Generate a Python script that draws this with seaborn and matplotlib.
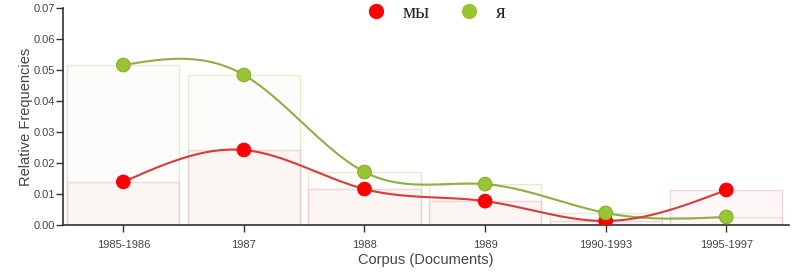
import numpy as np
import pandas as pd
import matplotlib
matplotlib.use("Agg")
import matplotlib.pyplot as plt
import seaborn as sns
from matplotlib.lines import Line2D

categories = ["1985-1986", "1987", "1988", "1989", "1990-1993", "1995-1997"]
my_values = [0.0139, 0.0242, 0.0116, 0.0077, 0.0013, 0.0113]   # мы
ya_values = [0.0516, 0.0484, 0.0171, 0.0132, 0.0039, 0.0026]   # я
series_names = ["мы", "я"]
y_ticks = [0.00, 0.01, 0.02, 0.03, 0.04, 0.05, 0.06, 0.07]

RED = "#ff0000"
RED_LINE = "#d93a3a"
GREEN = "#9ac431"
GREEN_LINE = "#8fae45"


def natural_spline(x, y, n=400):
    x = np.asarray(x, float)
    y = np.asarray(y, float)
    m = len(x)
    h = np.diff(x)
    A = np.zeros((m, m))
    b = np.zeros(m)
    A[0, 0] = 1
    A[-1, -1] = 1
    for i in range(1, m - 1):
        A[i, i - 1] = h[i - 1]
        A[i, i] = 2 * (h[i - 1] + h[i])
        A[i, i + 1] = h[i]
        b[i] = 6 * ((y[i + 1] - y[i]) / h[i] - (y[i] - y[i - 1]) / h[i - 1])
    M = np.linalg.solve(A, b)
    xs = np.linspace(x[0], x[-1], n)
    ys = np.empty_like(xs)
    for k, xv in enumerate(xs):
        i = min(np.searchsorted(x, xv, side="right") - 1, m - 2)
        t1 = x[i + 1] - xv
        t0 = xv - x[i]
        ys[k] = (M[i] * t1 ** 3 / (6 * h[i]) + M[i + 1] * t0 ** 3 / (6 * h[i])
                 + (y[i] / h[i] - M[i] * h[i] / 6) * t1
                 + (y[i + 1] / h[i] - M[i + 1] * h[i] / 6) * t0)
    return xs, ys


sns.set_style("white")
plt.rcParams["font.family"] = ["Liberation Sans", "DejaVu Sans"]

fig = plt.figure(figsize=(8, 2.73), dpi=100)
ax = fig.add_axes([63 / 800, 1 - 225 / 273, (789 - 63) / 800, (225 - 8) / 273])

df = pd.DataFrame({
    "cat": categories * 2,
    "val": my_values + ya_values,
    "series": [series_names[0]] * len(categories) + [series_names[1]] * len(categories),
})

# faint background bars (я first, мы on top)
for name in [series_names[1], series_names[0]]:
    sub = df[df["series"] == name]
    sns.barplot(data=sub, x="cat", y="val", order=categories, ax=ax,
                color="white", width=0.93, errorbar=None, zorder=1)
bars = ax.patches
n = len(categories)
for i, p in enumerate(bars):
    if i < n:
        p.set_facecolor((0.7, 0.75, 0.4, 0.03))
        p.set_edgecolor((0.85, 0.87, 0.72, 0.6))
    else:
        p.set_facecolor((0.95, 0.55, 0.55, 0.06))
        p.set_edgecolor((0.94, 0.75, 0.75, 0.6))
    p.set_linewidth(1.0)

xpos = np.arange(n)
for vals, lc in [(ya_values, GREEN_LINE), (my_values, RED_LINE)]:
    xs, ys = natural_spline(xpos, vals)
    ax.plot(xs, ys, color=lc, lw=1.5, zorder=3)

sns.scatterplot(data=df, x="cat", y="val", hue="series",
                palette={series_names[0]: RED, series_names[1]: GREEN},
                s=95, linewidth=0, ax=ax, zorder=4, legend=False)
ax.collections[-1].set_edgecolors([RED if s == series_names[0] else "#86ad2a" for s in df["series"]])
ax.collections[-1].set_linewidth(0.8)

ax.set_xlim(-0.5, n - 0.5 + 0.02)
ax.set_ylim(0, 0.07)
ax.set_yticks(y_ticks)
ax.set_yticklabels([f"{t:.2f}" for t in y_ticks])
ax.set_xticks(xpos)
ax.set_xticklabels(categories)

for s in ["top", "right"]:
    ax.spines[s].set_visible(False)
for s in ["left", "bottom"]:
    ax.spines[s].set_color("#333333")
    ax.spines[s].set_linewidth(1.2)
ax.tick_params(axis="both", direction="out", length=5, width=1, color="#333333",
               labelsize=8, labelcolor="#444444", left=True, bottom=True)
ax.tick_params(axis="x", pad=6)
ax.tick_params(axis="y", pad=1)
ax.set_xlabel("Corpus (Documents)", fontsize=10.5, color="#444444", labelpad=2)
ax.set_ylabel("Relative Frequencies", fontsize=10.5, color="#444444", labelpad=0)

handles = [Line2D([0], [0], marker="o", ls="", markersize=10, markerfacecolor=RED,
                  markeredgecolor=RED, label=series_names[0]),
           Line2D([0], [0], marker="o", ls="", markersize=10, markerfacecolor=GREEN,
                  markeredgecolor=GREEN, label=series_names[1])]
leg = fig.legend(handles=handles, loc="upper center", bbox_to_anchor=(0.538, 1.055),
                 ncol=2, frameon=False, handletextpad=0.3, columnspacing=0.9,
                 prop={"family": ["Liberation Serif", "DejaVu Serif"], "size": 15})

fig.savefig("out.png", dpi=100)
